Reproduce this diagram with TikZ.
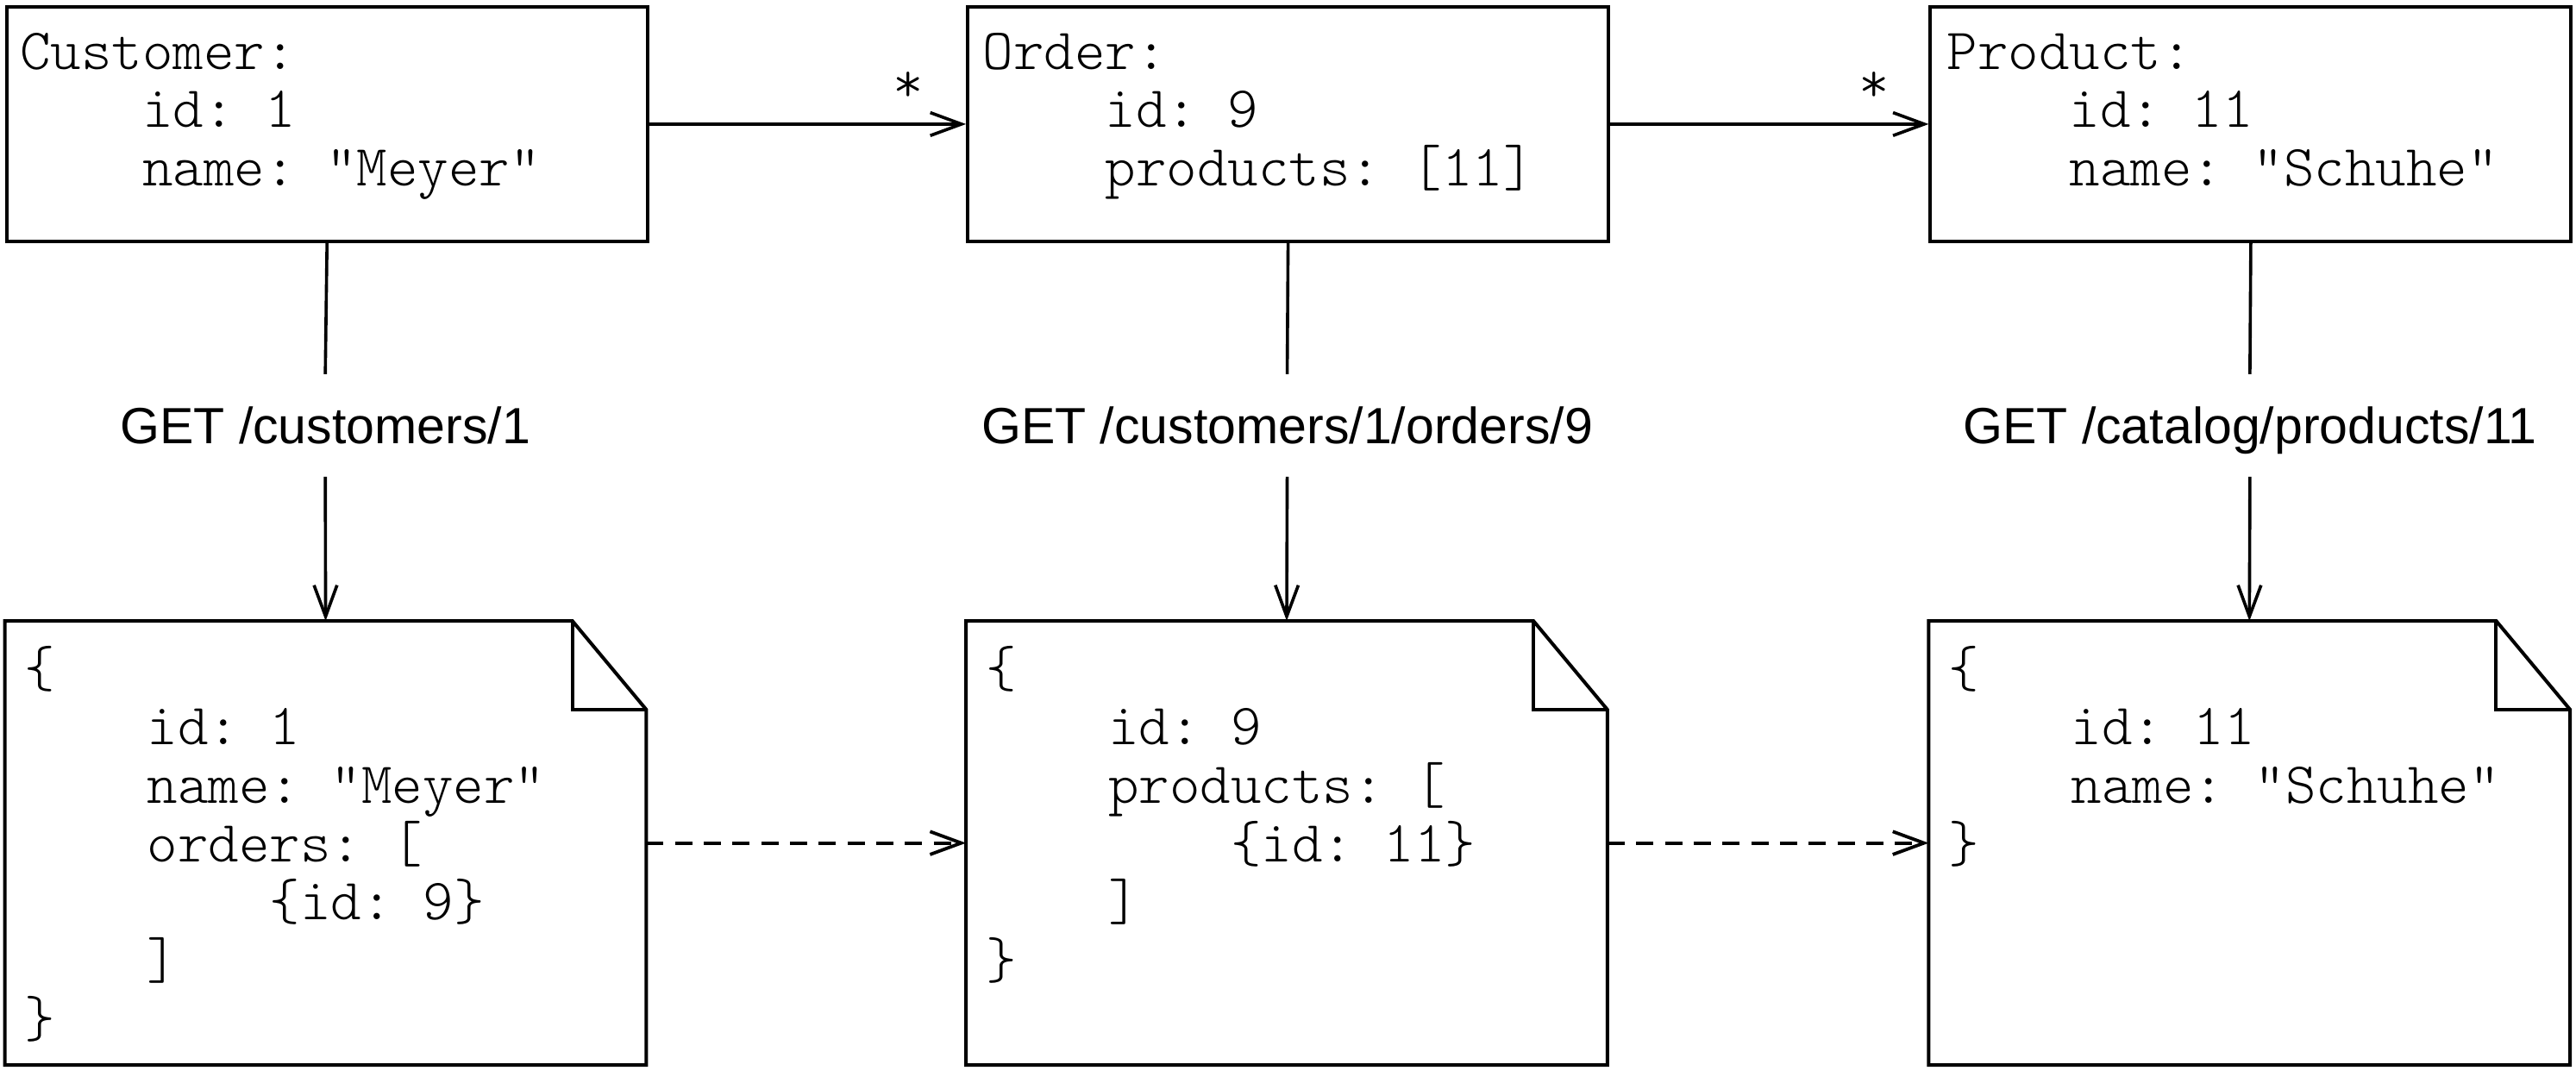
\documentclass[tikz,border=0pt]{standalone}
\usepackage{fontspec}
\setsansfont{Liberation Sans}
\newfontfamily\codefont{lmmonolt10-regular.otf}
\usetikzlibrary{arrows.meta}
\newcommand\codeind{\hskip2.1em\relax}
\newcommand\codelines[1]{\vtop{\lineskiplimit=-60pt\relax #1}}
\newcommand\drawdoc[1]{%
  \draw[docline] (#1.north west) -- ([xshift=-45pt]#1.north east) -- ([yshift=-54pt]#1.north east) -- (#1.south east) -- (#1.south west) -- cycle;
  \draw[docline] ([xshift=-45pt]#1.north east) -- ([xshift=-45pt,yshift=-54pt]#1.north east) -- ([yshift=-54pt]#1.north east);}
\begin{document}
\frenchspacing
\begin{tikzpicture}[x=1pt,y=-1pt,
  box/.style={draw, line width=2.1pt, rectangle, minimum width=390pt, minimum height=143pt, inner sep=0pt, anchor=north west},
  docarea/.style={rectangle, minimum width=390pt, minimum height=270pt, inner sep=0pt, anchor=north west},
  docline/.style={line width=2.1pt, line join=miter},
  code/.style={font=\codefont\fontsize{35.5}{35.5}\selectfont, inner sep=0pt, anchor=base west},
  req/.style={font=\sffamily\fontsize{31}{31}\selectfont, text height=22.6pt, text depth=0.6pt, minimum height=62pt, inner sep=0pt},
  conn/.style={line width=1.9pt},
  arr/.style={conn, -{Straight Barb[length=19pt,width=14pt]}},
  darr/.style={arr, line width=2pt, dash pattern=on 10.5pt off 7pt},
]
\useasboundingbox (0,0) rectangle (1568,655.6);

% top boxes
\node[box] (cust) at (3,3) {};
\node[box] (order) at (588,3) {};
\node[box] (prod) at (1174,3) {};

\node[code] (custtxt) at (12,42) {\codelines{\hbox{Customer:}\hbox{\codeind id: 1}\hbox{\codeind name: "Meyer"}}};
\node[code] (ordertxt) at (598,42) {\codelines{\hbox{Order:}\hbox{\codeind id: 9}\hbox{\codeind products: [11]}}};
\node[code] (prodtxt) at (1185,42) {\codelines{\hbox{Product:}\hbox{\codeind id: 11}\hbox{\codeind name: "Schuhe"}}};

% documents
\node[docarea] (cdoc) at (3,378) {};
\node[docarea] (odoc) at (588,378) {};
\node[docarea] (pdoc) at (1174,378) {};
\drawdoc{cdoc}
\drawdoc{odoc}
\drawdoc{pdoc}

\node[code] (cdoctxt) at (15,418) {\codelines{\hbox{\{}\hbox{\codeind id: 1}\hbox{\codeind name: "Meyer"}\hbox{\codeind orders: [}\hbox{\codeind\codeind\{id: 9\}}\hbox{\codeind ]}\hbox{\}}}};
\node[code] (odoctxt) at (600,418) {\codelines{\hbox{\{}\hbox{\codeind id: 9}\hbox{\codeind products: [}\hbox{\codeind\codeind\{id: 11\}}\hbox{\codeind ]}\hbox{\}}}};
\node[code] (pdoctxt) at (1186,418) {\codelines{\hbox{\{}\hbox{\codeind id: 11}\hbox{\codeind name: "Schuhe"}\hbox{\}}}};

% request labels
\node[req] (req1) at (198,259) {GET /customers/1};
\node[req] (req2) at (783.5,259) {GET /customers/1/orders/9};
\node[req] (req3) at (1369.5,259) {GET /catalog/products/11};

% associations
\draw[arr] (cust.east) -- (order.west);
\draw[arr] (order.east) -- (prod.west);
\node[code, anchor=base] (star1) at (553,62) {*};
\node[code, anchor=base] (star2) at (1141,62) {*};

% requests
\draw[conn] (cust.south) -- (req1.north);
\draw[arr] (req1.south) -- (cdoc.north);
\draw[conn] (order.south) -- (req2.north);
\draw[arr] (req2.south) -- (odoc.north);
\draw[conn] (prod.south) -- (req3.north);
\draw[arr] (req3.south) -- (pdoc.north);

% links between documents
\draw[darr] (cdoc.east) -- (odoc.west);
\draw[darr] (odoc.east) -- (pdoc.west);
\end{tikzpicture}
\end{document}
